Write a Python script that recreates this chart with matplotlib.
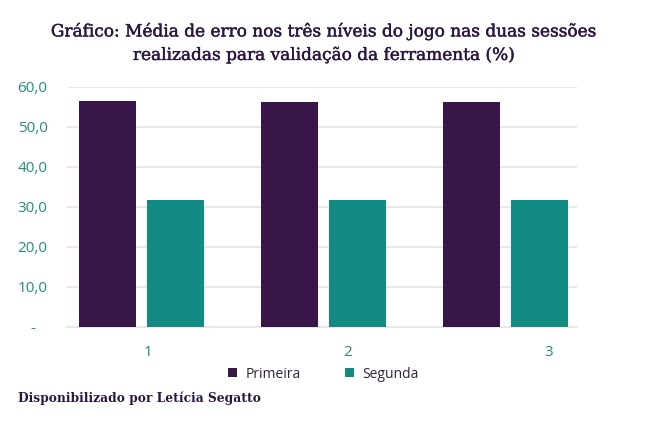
import matplotlib
matplotlib.use("Agg")
import matplotlib.pyplot as plt
import matplotlib.patheffects as pe
import numpy as np

# data
niveis = ["1", "2", "3"]
primeira = [56.6, 56.3, 56.3]
segunda = [31.8, 31.8, 31.8]
series_labels = ["Primeira", "Segunda"]
yticks = [0, 10, 20, 30, 40, 50, 60]
ytick_labels = ["-   ", "10,0", "20,0", "30,0", "40,0", "50,0", "60,0"]

roxo = "#39164a"
verde = "#128c82"
teal_txt = "#2b8a7e"
titulo_cor = "#2a1640"

fig = plt.figure(figsize=(6.47, 4.26), dpi=100)
ax = fig.add_axes([0.1036, 0.2324, 0.788, 0.5634])

x = np.arange(1, len(niveis) + 1)
w = 0.313
gap = 0.06
ax.bar(x - (w + gap) / 2, primeira, w, color=roxo, label=series_labels[0], zorder=3)
ax.bar(x + (w + gap) / 2, segunda, w, color=verde, label=series_labels[1], zorder=3)

ax.set_xlim(0.593, 3.39)
ax.set_ylim(0, 60)
ax.set_yticks(yticks)
ax.set_yticklabels(ytick_labels)
# category labels in the original are spread a little wider than the bar groups
ax.set_xticks(x * 1.1 - 0.065)
ax.set_xticklabels(niveis)
ax.yaxis.grid(True, color="#e8e8e8", linewidth=1.5, zorder=0)
ax.set_axisbelow(True)
for s in ["top", "right", "left"]:
    ax.spines[s].set_visible(False)
ax.spines["bottom"].set_color("#e8e8e8")
ax.spines["bottom"].set_linewidth(1.5)
ax.tick_params(axis="both", length=0, labelsize=11, labelcolor=teal_txt,
               labelfontfamily="Open Sans")
ax.tick_params(axis="y", pad=14)
ax.tick_params(axis="x", pad=13)

leg = fig.legend(loc="center", bbox_to_anchor=(0.5, 0.122), ncol=2, frameon=False,
                 handlelength=0.65, handleheight=0.65, handletextpad=0.6,
                 columnspacing=3.2, prop={"family": "Open Sans", "size": 10})
for t in leg.get_texts():
    t.set_color("#33223f")

# a thin stroke gives the title the slightly heavier look of the original font
fig.text(0.5, 0.898, "Gráfico: Média de erro nos três níveis do jogo nas duas sessões\n"
         "realizadas para validação da ferramenta (%)",
         ha="center", va="center", fontsize=12.2, family="DejaVu Serif",
         color=titulo_cor, linespacing=1.5,
         path_effects=[pe.withStroke(linewidth=0.3, foreground=titulo_cor)])
fig.text(0.028, 0.066, "Disponibilizado por Letícia Segatto", ha="left", va="center",
         fontsize=8.8, family="DejaVu Serif", fontweight="bold", color=titulo_cor)

fig.savefig("out.png", dpi=100, facecolor="white")
